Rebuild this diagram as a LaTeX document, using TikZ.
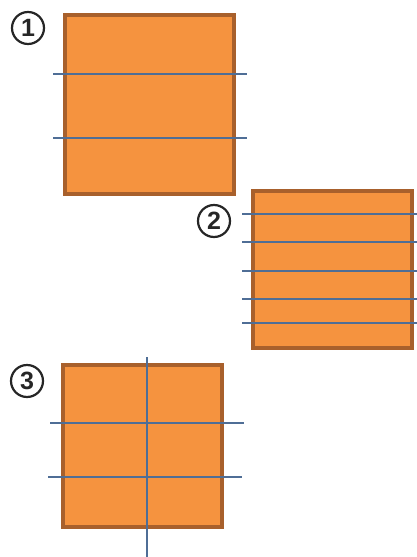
\documentclass[tikz,border=0pt]{standalone}
\usepackage{fontspec}
\setsansfont{Liberation Sans}
\definecolor{sheet}{HTML}{F5933F}
\definecolor{rim}{HTML}{A8602C}
\definecolor{cut}{HTML}{4F6E96}
\tikzset{
 paper/.style={fill=sheet,draw=rim,line width=3.2pt},
 cutline/.style={draw=cut,line width=1.6pt},
 num/.style={circle,draw=black!85,line width=2.2pt,minimum size=32pt,inner sep=0pt,
  font=\sffamily\bfseries\fontsize{25}{25}\selectfont,text=black!85}
}
\begin{document}
\begin{tikzpicture}[x=1pt,y=-1pt]
 \useasboundingbox (0,0) rectangle (417,557);
 % piece 1
 \draw[paper] (65,15) rectangle (234,194);
 \draw[cutline] (53,74) -- (247,74);
 \draw[cutline] (53,138) -- (247,138);
 \node[num] (n1) at (28,28) {1};
 % piece 2
 \draw[paper] (253,191) rectangle (412,348);
 \foreach \y in {214,242,271,299,323}
  \draw[cutline] (242,\y) -- (417,\y);
 \node[num] (n2) at (214,221) {2};
 % piece 3
 \draw[paper] (63,365) rectangle (222,527);
 \draw[cutline] (50,423) -- (244,423);
 \draw[cutline] (48,477) -- (242,477);
 \draw[cutline] (147,357) -- (147,557);
 \node[num] (n3) at (27,381) {3};
\end{tikzpicture}
\end{document}
